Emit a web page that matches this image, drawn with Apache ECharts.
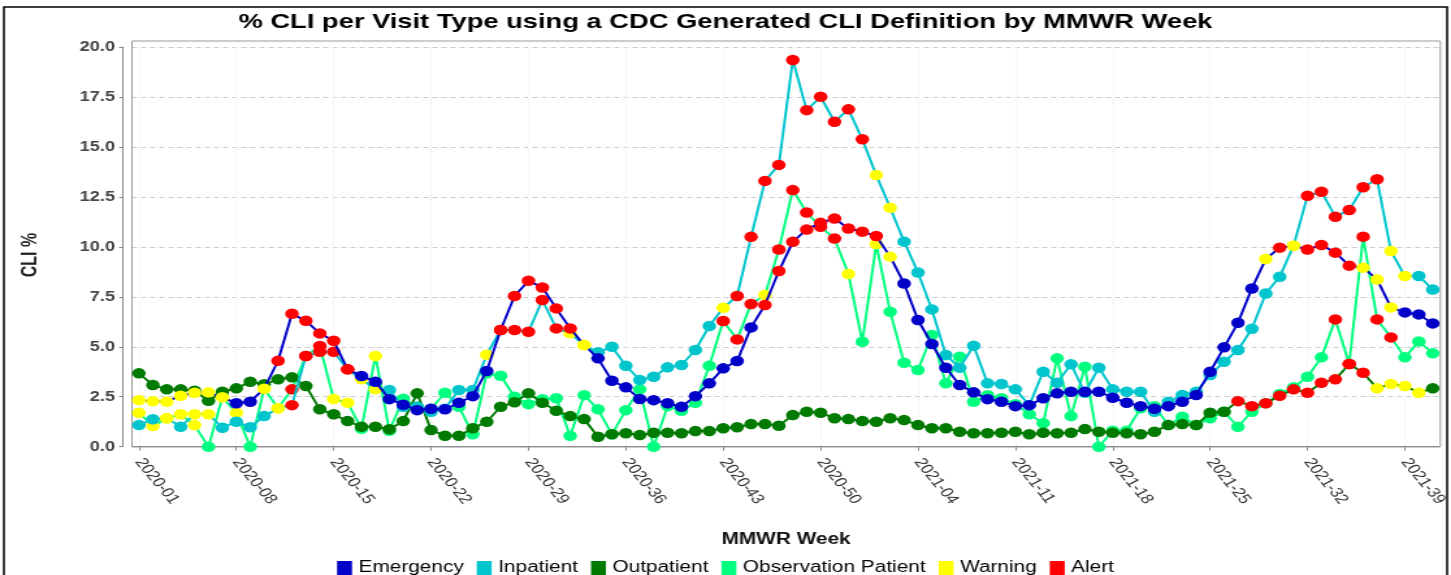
<!DOCTYPE html>
<html>
<head>
<meta charset="utf-8">
<script src="https://cdn.jsdelivr.net/npm/echarts@6/dist/echarts.min.js"></script>
<style>
  html, body { margin: 0; padding: 0; background: #fff; overflow: hidden; }
  /* the source picture is stretched sideways, so draw narrow and stretch the same way */
  #chart { width: 1116px; height: 575px; transform: scaleX(1.3002); transform-origin: 0 0; }
</style>
</head>
<body>
<div id="chart"></div>
<script>
// MMWR weeks 2020-01 .. 2021-41
var weeks = [];
for (var w = 1; w <= 53; w++) weeks.push('2020-' + (w < 10 ? '0' + w : w));
for (var w = 1; w <= 41; w++) weeks.push('2021-' + (w < 10 ? '0' + w : w));

var emergency = [2.33,2.28,2.25,2.55,2.7,2.72,2.47,2.17,2.25,2.9,
  4.3,6.65,6.3,5.67,5.3,3.87,3.54,3.25,2.38,2.1,
  1.83,1.9,1.87,2.2,2.53,3.79,5.84,7.54,8.3,7.97,
  6.92,5.92,5.09,4.42,3.3,2.97,2.39,2.33,2.17,2.0,
  2.53,3.17,3.92,4.29,5.97,7.09,8.79,10.25,10.87,11.2,
  11.42,10.92,10.76,10.54,9.51,8.17,6.34,5.14,3.95,3.09,
  2.72,2.38,2.25,2.03,2.08,2.42,2.67,2.75,2.75,2.75,
  2.45,2.2,2.03,1.9,2.03,2.25,2.59,3.75,4.97,6.2,
  7.92,9.39,9.96,10.06,9.87,10.09,9.71,9.06,8.96,8.37,
  6.97,6.72,6.62,6.17];
var inpatient = [1.08,1.37,1.42,1.0,1.62,1.62,0.95,1.25,0.97,1.53,
  1.92,2.08,4.54,4.75,4.75,3.87,3.37,2.87,2.84,2.0,
  2.0,1.75,1.9,2.84,2.84,4.6,5.84,5.84,5.75,7.34,
  5.92,5.67,5.09,4.72,5.0,4.05,3.34,3.5,3.97,4.09,
  4.84,6.04,6.95,7.54,10.5,13.3,14.1,19.35,16.84,17.51,
  16.26,16.88,15.38,13.59,11.96,10.26,8.72,6.87,4.59,3.95,
  5.05,3.17,3.14,2.87,2.08,3.75,3.2,4.12,2.7,3.95,
  2.87,2.75,2.75,1.75,2.25,2.59,2.75,3.59,4.25,4.84,
  5.9,7.67,8.5,10.06,12.56,12.76,11.51,11.84,12.98,13.38,
  9.79,8.54,8.54,7.87];
var outpatient = [3.67,3.09,2.87,2.87,2.8,2.3,2.75,2.92,3.25,3.12,
  3.37,3.47,3.04,1.87,1.62,1.28,1.0,1.0,0.87,1.28,
  2.67,0.83,0.55,0.55,0.92,1.25,2.0,2.22,2.67,2.2,
  1.8,1.53,1.38,0.5,0.62,0.67,0.58,0.7,0.7,0.67,
  0.78,0.78,0.92,0.97,1.13,1.13,1.05,1.58,1.75,1.7,
  1.42,1.38,1.28,1.25,1.42,1.33,1.08,0.92,0.92,0.75,
  0.67,0.67,0.7,0.75,0.62,0.7,0.67,0.7,0.88,0.75,
  0.7,0.67,0.62,0.75,1.08,1.13,1.08,1.7,1.75,2.28,
  2.03,2.17,2.55,2.87,2.7,3.2,3.37,4.14,3.7,2.92,
  3.14,3.04,2.7,2.92];
var observation = [1.7,1.03,1.42,1.62,1.08,0,2.47,1.7,0,2.9,
  1.92,2.87,4.54,5.04,2.39,2.2,0.9,4.54,0.8,2.4,
  2.0,1.9,2.7,2.0,0.62,3.67,3.55,2.5,2.13,2.38,
  2.42,0.55,2.58,1.87,0.62,1.83,2.87,0,2.03,1.8,
  2.2,4.05,6.29,5.37,7.14,7.59,9.87,12.84,11.72,11.0,
  10.42,8.64,5.25,10.14,6.75,4.2,3.84,5.59,3.17,4.5,
  2.25,2.58,2.42,2.13,1.62,1.17,4.42,1.53,4.0,0,
  0.8,0.8,1.92,2.03,1.08,1.5,1.08,1.42,1.75,1.0,
  1.75,2.17,2.64,2.97,3.5,4.47,6.37,4.14,10.51,6.37,
  5.47,4.47,5.27,4.67];

// 0 = normal, 1 = warning, 2 = alert
var emergencyFlag = [1,1,1,1,1,1,1,0,0,1, 2,2,2,2,2,2,0,0,0,0, 0,0,0,0,0,0,2,2,2,2,
  2,2,1,0,0,0,0,0,0,0, 0,0,0,0,0,2,2,2,2,2, 2,2,2,2,1,0,0,0,0,0, 0,0,0,0,0,0,0,0,0,0,
  0,0,0,0,0,0,0,0,0,0, 0,1,2,1,2,2,2,2,1,1, 1,0,0,0];
var inpatientFlag = [0,0,1,0,1,1,0,0,0,0, 1,2,2,2,2,2,1,1,0,0, 0,0,0,0,0,1,2,2,2,2,
  2,1,1,0,0,0,0,0,0,0, 0,0,1,2,2,2,2,2,2,2, 2,2,2,1,1,0,0,0,0,0, 0,0,0,0,0,0,0,0,0,0,
  0,0,0,0,0,0,0,0,0,0, 0,0,0,1,2,2,2,2,2,2, 1,1,0,0];
var outpatientFlag = [0,0,0,0,0,0,0,0,0,0, 0,0,0,0,0,0,0,0,0,0, 0,0,0,0,0,0,0,0,0,0,
  0,0,0,0,0,0,0,0,0,0, 0,0,0,0,0,0,0,0,0,0, 0,0,0,0,0,0,0,0,0,0, 0,0,0,0,0,0,0,0,0,0,
  0,0,0,0,0,0,0,0,0,2, 2,2,2,2,2,2,2,2,2,1, 1,1,1,0];
var observationFlag = [1,1,1,1,1,0,1,1,0,1, 1,2,2,2,1,1,0,1,0,0, 0,0,0,0,0,0,0,0,0,0,
  0,0,0,0,0,0,0,0,0,0, 0,0,2,2,2,1,2,2,2,2, 2,1,0,1,0,0,0,0,0,0, 0,0,0,0,0,0,0,0,0,0,
  0,0,0,0,0,0,0,0,0,0, 0,0,0,0,0,0,2,2,2,2, 2,0,0,0];

var WARN = '#ffff00', ALERT = '#ff0000';
var FONT = '"Liberation Sans", Arial, sans-serif';

function points(vals, flags, base) {
  return vals.map(function (v, i) {
    var c = flags[i] === 2 ? ALERT : flags[i] === 1 ? WARN : base;
    return { value: v, itemStyle: { color: c } };
  });
}

function lineSeries(name, vals, flags, color, z) {
  return {
    name: name,
    type: 'line',
    z: z,
    data: points(vals, flags, color),
    symbol: 'circle',
    symbolSize: 10.5,
    showAllSymbol: true,
    itemStyle: { color: color },
    lineStyle: { color: color, width: 2 },
    emphasis: { disabled: true },
    animation: false
  };
}

var chart = echarts.init(document.getElementById('chart'), null, { renderer: 'canvas' });

var gridL = 101.5, gridR = 8.2, gridTop = 47, gridBottom = 128.3;

var option = {
  animation: false,
  title: {
    text: '% CLI per Visit Type using a CDC Generated CLI Definition by MMWR Week',
    left: 'center',
    top: 7,
    textStyle: { fontFamily: FONT, fontSize: 21, fontWeight: 'bold', color: '#000' }
  },
  legend: {
    data: ['Emergency', 'Inpatient', 'Outpatient', 'Observation Patient', 'Warning', 'Alert'],
    left: 'center',
    top: 555,
    icon: 'rect',
    itemWidth: 11.5,
    itemHeight: 14,
    itemGap: 10,
    selectedMode: false,
    textStyle: { fontFamily: FONT, fontSize: 16, color: '#000' }
  },
  grid: { left: gridL, right: gridR, top: gridTop, bottom: gridBottom },
  xAxis: {
    type: 'category',
    data: weeks,
    boundaryGap: true,
    offset: 7,
    axisLine: { show: true, lineStyle: { color: '#888', width: 1 } },
    axisTick: { show: true, interval: 6, alignWithLabel: true, length: 4, lineStyle: { color: '#888' } },
    axisLabel: { interval: 6, rotate: -57, margin: 6, fontFamily: FONT, fontSize: 14, color: '#333' },
    splitLine: { show: true, interval: 6, alignWithLabel: true, lineStyle: { color: '#eeeeee', type: 'dotted' } }
  },
  yAxis: {
    type: 'value',
    min: 0,
    max: 20,
    interval: 2.5,
    offset: 7,
    axisLine: { show: true, lineStyle: { color: '#888', width: 1 } },
    axisTick: { show: true, length: 3, lineStyle: { color: '#888' } },
    axisLabel: {
      margin: 6, fontFamily: FONT, fontSize: 14, fontWeight: 'bold', color: '#444',
      formatter: function (v) { return v.toFixed(1); }
    },
    splitLine: { show: true, lineStyle: { color: '#cccccc', type: [4, 3] } }
  },
  graphic: [
    { type: 'rect', shape: { x: 3, y: 7, width: 1110, height: 620 }, style: { fill: 'none', stroke: '#000', lineWidth: 1.5 }, silent: true },
    { type: 'rect', shape: { x: gridL, y: 41, width: 1116 - gridL - gridR, height: 406 }, style: { fill: 'none', stroke: '#999', lineWidth: 1 }, silent: true, z: 1 },
    { type: 'text', x: 24, y: 255, rotation: Math.PI / 2, style: { text: 'CLI %', fontFamily: FONT, fontSize: 16, fontWeight: 'bold', fill: '#222', textAlign: 'center', textVerticalAlign: 'middle' }, silent: true },
    { type: 'text', x: 604.6, y: 540, style: { text: 'MMWR Week', fontFamily: FONT, fontSize: 16, fontWeight: 'bold', fill: '#111', textAlign: 'center', textVerticalAlign: 'middle' }, silent: true }
  ],
  series: [
    lineSeries('Emergency', emergency, emergencyFlag, '#0000c8', 6),
    lineSeries('Inpatient', inpatient, inpatientFlag, '#00c5cd', 5),
    lineSeries('Outpatient', outpatient, outpatientFlag, '#007a00', 4),
    lineSeries('Observation Patient', observation, observationFlag, '#00ff7f', 3),
    { name: 'Warning', type: 'line', data: [], itemStyle: { color: WARN }, lineStyle: { color: WARN } },
    { name: 'Alert', type: 'line', data: [], itemStyle: { color: ALERT }, lineStyle: { color: ALERT } }
  ]
};

chart.setOption(option);
</script>
</body>
</html>
